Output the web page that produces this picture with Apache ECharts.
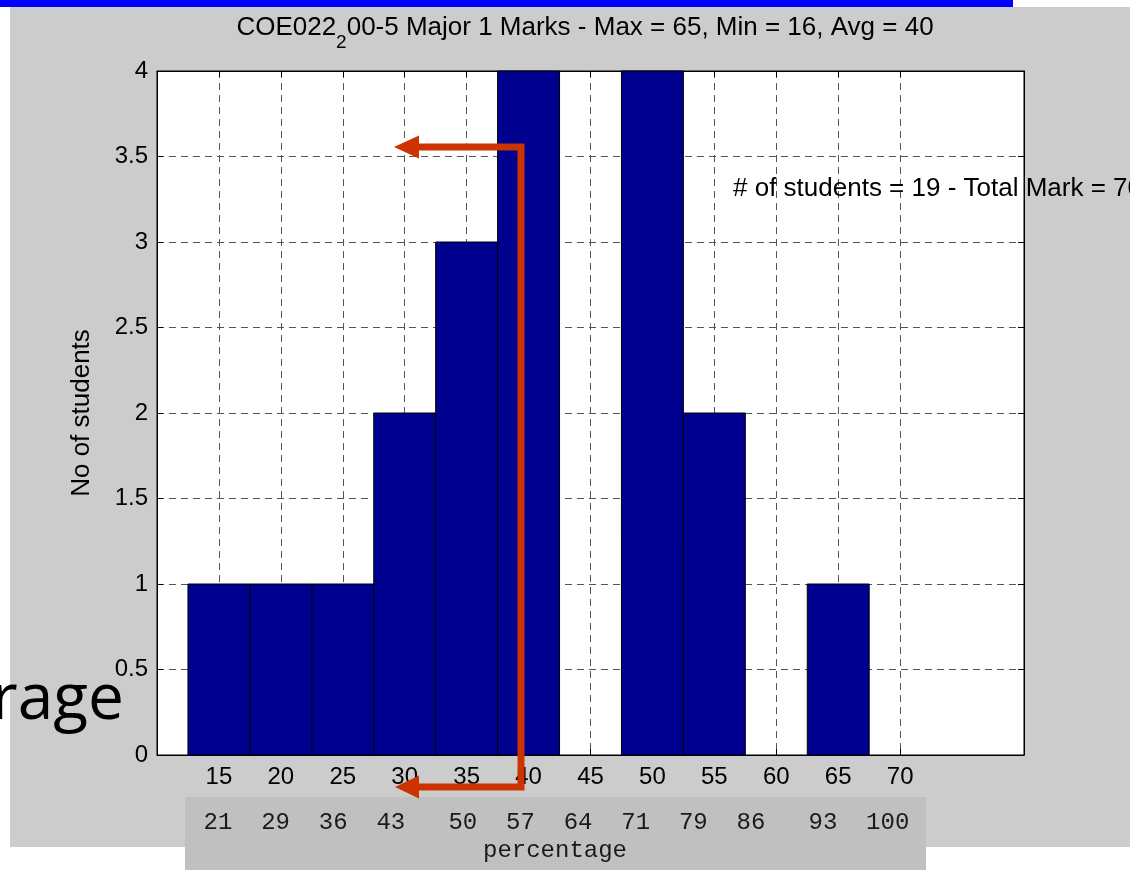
<!DOCTYPE html>
<html>
<head>
<meta charset="utf-8">
<script src="https://cdn.jsdelivr.net/npm/echarts@6/dist/echarts.min.js"></script>
<style>
  html, body { margin: 0; padding: 0; background: #ffffff; }
  #chart { width: 1130px; height: 870px; }
</style>
</head>
<body>
<div id="chart"></div>
<script>
// ---- data ----
const binCenters = [15, 20, 25, 30, 35, 40, 45, 50, 55, 60, 65, 70];
const studentCounts = [1, 1, 1, 2, 3, 4, 0, 4, 2, 0, 1, 0];
const binWidth = 5;
const xTicks = [15, 20, 25, 30, 35, 40, 45, 50, 55, 60, 65, 70];
const percentLabels = ['21', '29', '36', '43', '50', '57', '64', '71', '79', '86', '93', '100'];
const titleMain = 'COE022';
const titleSub = '2';
const titleRest = '00-5 Major 1 Marks - Max = 65, Min = 16, Avg = 40';
const infoText = '# of students = 19 - Total Mark = 70';
const yAxisName = 'No of students';
const percentName = 'percentage';
const slideText = 'rage';

// ---- layout helpers ----
const pctGaps = [2, 2, 2, 3, 2, 2, 2, 2, 2, 3, 2];
let pctLine = percentLabels[0];
for (let i = 1; i < percentLabels.length; i++) {
  pctLine += ' '.repeat(pctGaps[i - 1]) + percentLabels[i];
}

const chart = echarts.init(document.getElementById('chart'), null, { renderer: 'canvas' });
const SANS = 'Liberation Sans, Arial, sans-serif';
const MONO = 'Liberation Mono, Courier New, monospace';
const dashStyle = { color: '#555555', width: 1, type: [7, 5] };
const red = '#cc3300';

const option = {
  backgroundColor: '#ffffff',
  animation: false,
  graphic: [
    { type: 'rect', z: -20, shape: { x: 0, y: 0, width: 1013, height: 7 }, style: { fill: '#0000ff' } },
    { type: 'rect', z: -20, shape: { x: 10, y: 7, width: 1120, height: 840 }, style: { fill: '#cccccc' } },
    { type: 'rect', z: -19, shape: { x: 185, y: 797, width: 741, height: 73 }, style: { fill: '#c0c0c0' } },
    {
      type: 'text', z: 50, x: 585, y: 28,
      style: {
        text: '{m|' + titleMain + '}{s|' + titleSub + '}{m|' + titleRest + '}',
        align: 'center', verticalAlign: 'middle',
        rich: {
          m: { fontFamily: SANS, fontSize: 26, lineHeight: 30, fill: '#000' },
          s: { fontFamily: SANS, fontSize: 19, lineHeight: 22, padding: [30, 0, 0, 0], fill: '#000' }
        }
      }
    },
    {
      type: 'text', z: 50, x: 733, y: 189,
      style: { text: infoText, fontFamily: SANS, fontSize: 26, fill: '#000', align: 'left', verticalAlign: 'middle' }
    },
    {
      type: 'text', z: 50, x: 124, y: 701,
      style: { text: slideText, fontFamily: 'Open Sans, sans-serif', fontSize: 64, fill: '#000', align: 'right', verticalAlign: 'middle' }
    },
    {
      type: 'text', z: 50, x: 203.6, y: 822.5,
      style: { text: pctLine, fontFamily: MONO, fontSize: 24, fill: '#1a1a1a', align: 'left', verticalAlign: 'middle' }
    },
    {
      type: 'text', z: 50, x: 555, y: 851,
      style: { text: percentName, fontFamily: MONO, fontSize: 24, fill: '#1a1a1a', align: 'center', verticalAlign: 'middle' }
    },
    {
      type: 'polyline', z: 60,
      shape: { points: [[416, 147], [521, 147], [521, 787], [416, 787]] },
      style: { stroke: red, lineWidth: 7, fill: null, lineJoin: 'miter', lineCap: 'butt' }
    },
    { type: 'polygon', z: 60, shape: { points: [[394, 147], [419, 135.5], [419, 158.5]] }, style: { fill: red } },
    { type: 'polygon', z: 60, shape: { points: [[395, 787], [419, 775.5], [419, 798.5]] }, style: { fill: red } }
  ],
  grid: {
    left: 157, top: 71, width: 867, height: 684,
    show: true, backgroundColor: '#ffffff', borderColor: '#000000', borderWidth: 1
  },
  xAxis: [
    {
      type: 'value', min: 10, max: 80, position: 'bottom',
      axisLine: { show: true, onZero: false, lineStyle: { color: '#000', width: 1 } },
      axisTick: { show: true, inside: true, length: 6, customValues: xTicks, lineStyle: { color: '#000' } },
      axisLabel: { customValues: xTicks, fontFamily: SANS, fontSize: 24, color: '#000', margin: 10 },
      splitLine: { show: true, lineStyle: dashStyle }
    },
    {
      type: 'value', min: 10, max: 80, position: 'top',
      axisLine: { show: true, onZero: false, lineStyle: { color: '#000', width: 1 } },
      axisTick: { show: true, inside: true, length: 6, customValues: xTicks, lineStyle: { color: '#000' } },
      axisLabel: { show: false },
      splitLine: { show: false }
    }
  ],
  yAxis: [
    {
      type: 'value', min: 0, max: 4, interval: 0.5, position: 'left',
      name: yAxisName, nameLocation: 'middle', nameGap: 62,
      nameTextStyle: { fontFamily: SANS, fontSize: 26, color: '#000' },
      axisLine: { show: true, lineStyle: { color: '#000', width: 1 } },
      axisTick: { show: true, inside: true, length: 6, lineStyle: { color: '#000' } },
      axisLabel: { fontFamily: SANS, fontSize: 24, color: '#000', margin: 9 },
      splitLine: { show: true, lineStyle: dashStyle }
    },
    {
      type: 'value', min: 0, max: 4, interval: 0.5, position: 'right',
      axisLine: { show: true, lineStyle: { color: '#000', width: 1 } },
      axisTick: { show: true, inside: true, length: 6, lineStyle: { color: '#000' } },
      axisLabel: { show: false },
      splitLine: { show: false }
    }
  ],
  series: [
    {
      type: 'custom',
      xAxisIndex: 0, yAxisIndex: 0,
      encode: { x: 0, y: 1 },
      data: binCenters.map((c, i) => [c, studentCounts[i]]),
      renderItem: function (params, api) {
        const c = api.value(0);
        const v = api.value(1);
        if (!v) return null;
        const p1 = api.coord([c - binWidth / 2, v]);
        const p2 = api.coord([c + binWidth / 2, 0]);
        return {
          type: 'rect',
          shape: { x: p1[0], y: p1[1], width: p2[0] - p1[0], height: p2[1] - p1[1] },
          style: { fill: '#00008f', stroke: '#000000', lineWidth: 1 }
        };
      }
    }
  ]
};
chart.setOption(option);
</script>
</body>
</html>
